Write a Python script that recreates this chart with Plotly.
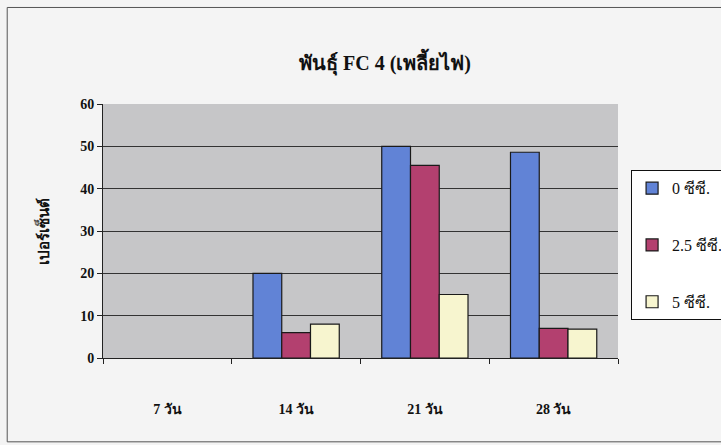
import plotly.graph_objects as go

# Days after treatment (x categories)
days = ["7 วัน", "14 วัน", "21 วัน", "28 วัน"]

# Percentage per dose
dose_0 = [0, 20, 50, 48.6]
dose_25 = [0, 6, 45.5, 7]
dose_5 = [0, 8, 15, 6.8]

series_names = ["0 ซีซี.", "2.5 ซีซี.", "5 ซีซี."]
series_colors = ["#6183d6", "#b3406f", "#f7f5cf"]

y_ticks = [0, 10, 20, 30, 40, 50, 60]

serif = "Liberation Serif, Times New Roman, serif"

fig = go.Figure()
for i, (name, vals, col) in enumerate(zip(series_names, [dose_0, dose_25, dose_5], series_colors)):
    # zero-height bars are left undrawn
    shown = [v if v != 0 else None for v in vals]
    fig.add_trace(go.Bar(
        x=days, y=shown, name=name, legendgroup=str(i),
        marker=dict(color=col, line=dict(color="#1a1a1a", width=1.2)),
    ))

fig.update_layout(
    width=721, height=445,
    margin=dict(l=103, r=103, t=104, b=87, autoexpand=False),
    paper_bgcolor="#f4f4f4",
    plot_bgcolor="#c6c6c8",
    barmode="group",
    bargap=0.33, bargroupgap=0,
    title=dict(text="<b>พันธุ์ FC 4 (เพลี้ยไฟ)</b>", x=0.534, xanchor="center",
               y=0.858, yanchor="middle",
               font=dict(family=serif, size=20, color="#111")),
    font=dict(family=serif, color="#111"),
    legend=dict(x=1.025, xanchor="left", y=0.74, yanchor="top",
                bgcolor="#ffffff", bordercolor="#111", borderwidth=1.2,
                font=dict(family=serif, size=16, color="#111"),
                tracegroupgap=33),
    showlegend=True,
)

fig.update_xaxes(
    showline=True, linecolor="#222", linewidth=1,
    ticks="outside", ticklen=5, tickcolor="#222", tickson="boundaries",
    tickfont=dict(family=serif, size=14, color="#111"),
    ticklabelstandoff=38,
    tickprefix="<b>", ticksuffix="</b>",
    mirror=False,
)
fig.update_yaxes(
    range=[0, 60], tickvals=y_ticks,
    ticktext=[f"<b>{v}</b>" for v in y_ticks],
    showline=True, linecolor="#222", linewidth=1,
    ticks="outside", ticklen=5, tickcolor="#222",
    showgrid=True, gridcolor="#333", gridwidth=1,
    tickfont=dict(family=serif, size=14, color="#111"),
    title=dict(text="<b>เปอร์เซ็นต์</b>", font=dict(family=serif, size=15, color="#111"),
               standoff=26),
    zeroline=False,
)

# outer chart frame
fig.add_shape(type="rect", xref="paper", yref="paper",
              x0=-0.186, x1=1.25, y0=-0.33, y1=1.38,
              line=dict(color="#555", width=1), fillcolor="rgba(0,0,0,0)", layer="below")

fig.write_html("out.html")
